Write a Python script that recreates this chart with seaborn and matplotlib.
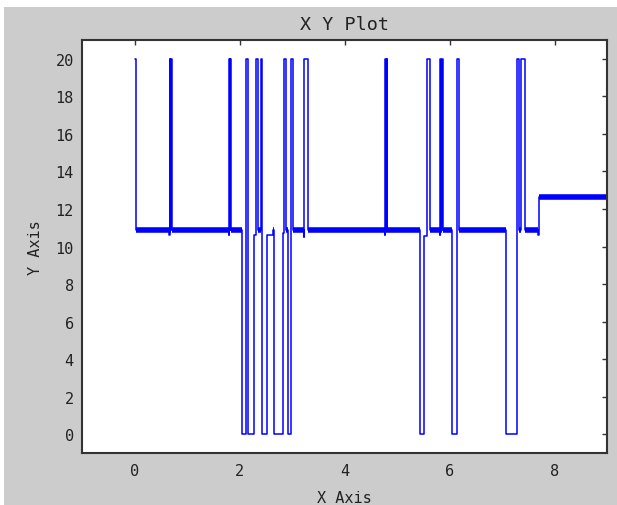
import seaborn as sns
import matplotlib.pyplot as plt
from matplotlib.patches import Rectangle

# step trace: value holds from each x until the next x
step_x = [0.00, 0.03, 0.665, 0.67, 0.685, 0.695, 0.71,
          1.795, 1.80, 1.815, 1.825, 1.84,
          2.05, 2.115, 2.155, 2.27, 2.305, 2.35, 2.40, 2.42,
          2.53, 2.63, 2.66, 2.82, 2.845, 2.885, 2.92, 2.98, 3.02,
          3.22, 3.235, 3.31,
          4.77, 4.775, 4.79, 4.80, 4.815,
          5.44, 5.515, 5.57, 5.63, 5.82, 5.825, 5.84, 5.855, 5.87,
          6.04, 6.15, 6.19,
          7.08, 7.28, 7.32, 7.36, 7.44, 7.695, 7.70, 9.10]
step_y = [20, 10.9, 10.6, 20, 10.9, 20, 10.9,
          10.6, 20, 10.9, 20, 10.9,
          0, 20, 0, 10.6, 20, 10.9, 20, 0,
          10.6, 10.9, 0, 10.7, 20, 10.9, 0, 20, 10.9,
          10.5, 20, 10.9,
          10.6, 20, 10.9, 20, 10.9,
          0, 10.55, 20, 10.9, 10.6, 20, 10.9, 20, 10.9,
          0, 20, 10.9,
          0, 20, 10.9, 20, 10.9, 10.6, 12.65, 12.65]
noisy_levels = [10.9, 12.65]

x_ticks = [0, 2, 4, 6, 8]
y_ticks = [0, 2, 4, 6, 8, 10, 12, 14, 16, 18, 20]

sns.set_style("white")
plt.rcParams['font.family'] = ['DejaVu Sans Mono', 'DejaVu Sans']
plt.rcParams['font.size'] = 11

fig = plt.figure(figsize=(6.17, 5.06), dpi=100, facecolor='white')
fig.add_artist(Rectangle((4 / 617, 0), 1, (506 - 8) / 506, transform=fig.transFigure,
                         facecolor='#cccccc', edgecolor='none', zorder=-10))
ax = fig.add_axes([82 / 617, (506 - 454) / 506, (607 - 82) / 617, (454 - 41) / 506])
ax.set_facecolor('white')

blue = '#0000ff'
sns.lineplot(x=step_x, y=step_y, ax=ax, estimator=None, sort=False,
             drawstyle='steps-post', color=blue, linewidth=1.1)

# the noisy flat stretches look like a thick band
bx0, bx1, by = [], [], []
for i in range(len(step_x) - 1):
    if step_y[i] in noisy_levels:
        bx0.append(step_x[i])
        bx1.append(step_x[i + 1])
        by.append(step_y[i])
ax.hlines(by, bx0, bx1, color=blue, linewidth=4.0, capstyle='butt')

ax.set_xlim(-1, 9)
ax.set_ylim(-1, 21)
ax.set_xticks(x_ticks)
ax.set_yticks(y_ticks)
ax.tick_params(direction='in', length=3.6, width=1.0, color='#333333',
               top=True, right=True, labelcolor='#222222')
ax.tick_params(axis='x', pad=7)
ax.tick_params(axis='y', pad=6)
for s in ax.spines.values():
    s.set_color('#333333')
    s.set_linewidth(1.5)

ax.set_title('X Y Plot', pad=8, color='#222222')
ax.set_xlabel('X Axis', labelpad=9, color='#222222')
ax.set_ylabel('Y Axis', labelpad=9, color='#222222')

fig.savefig('out.png', dpi=100, facecolor=fig.get_facecolor())
